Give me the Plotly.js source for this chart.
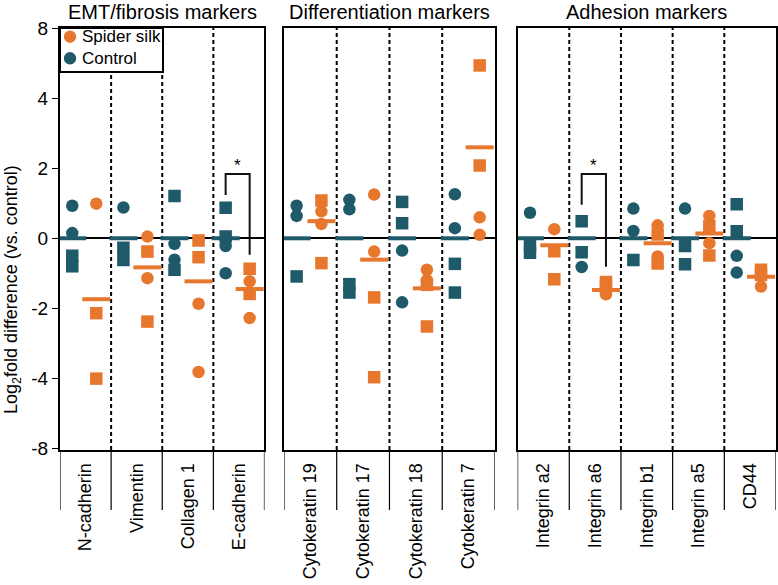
<!DOCTYPE html>
<html>
<head>
<meta charset="utf-8">
<script src="https://cdn.plot.ly/plotly-3.0.1.min.js"></script>
<style>html,body{margin:0;padding:0;background:#fff;}#chart{width:778px;height:585px;}</style>
</head>
<body>
<div id="chart"></div>
<script>
// ---------- DATA (log2 fold difference vs. control) ----------
const emtCategories = ['N-cadherin', 'Vimentin', 'Collagen 1', 'E-cadherin'];
const emtControlCircles = [[0.93, 0.15], [0.88], [-0.16, -0.61], [-0.22, -1.00]];
const emtControlSquares = [[-0.50, -0.80], [-0.27, -0.62], [1.21, -0.90], [0.87, 0.05]];
const emtSilkCircles = [[0.99], [0.05, -1.14], [-1.87, -3.82], [-1.23, -2.28]];
const emtSilkSquares = [[-2.14, -4.01], [-0.38, -2.38], [-0.06, -0.54], [-0.87, -1.59]];
const emtControlMeans = [0, 0, 0, 0];
const emtSilkMeans = [-1.74, -0.83, -1.23, -1.45];

const diffCategories = ['Cytokeratin 19', 'Cytokeratin 17', 'Cytokeratin 18', 'Cytokeratin 7'];
const diffControlCircles = [[0.93, 0.64], [1.10, 0.83], [-0.35, -1.83], [1.26, 0.29]];
const diffControlSquares = [[-1.09], [-1.31, -1.55], [1.04, 0.43], [-0.73, -1.55]];
const diffSilkCircles = [[0.77, 0.41], [1.25, -0.38], [-0.90, -1.20], [0.60, 0.10]];
const diffSilkSquares = [[1.08, -0.71], [-1.69, -3.97], [-1.33, -2.52], [4.94, 2.08]];
const diffControlMeans = [0, 0, 0, 0];
const diffSilkMeans = [0.49, -0.61, -1.43, 2.60];

const adhCategories = ['Integrin a2', 'Integrin a6', 'Integrin b1', 'Integrin a5', 'CD44'];
const adhControlCircles = [[0.73], [-0.82], [0.85, 0.21], [0.85], [-0.50, -0.98]];
const adhControlSquares = [[-0.20, -0.41], [0.49, -0.40], [-0.62], [-0.22, -0.74], [0.97, 0.20]];
const adhSilkCircles = [[0.26], [-1.60], [0.37, -0.52], [0.64, -0.14], [-1.38]];
const adhSilkSquares = [[-0.37, -1.17], [-1.25, -1.40], [0.11, -0.72], [0.35, -0.49], [-0.90, -1.05]];
const adhControlMeans = [0, 0, 0, 0, 0];
const adhSilkMeans = [-0.20, -1.48, -0.14, 0.14, -1.10];

const panelTitles = ['EMT/fibrosis markers', 'Differentiation markers', 'Adhesion markers'];
const yTickValues = [-6, -4, -2, 0, 2, 4, 6];
const yTickLabels = ['-8', '-4', '-2', '0', '2', '4', '8'];
const seriesNames = ['Spider silk', 'Control'];

// significance brackets: panel index, category index, bracket top, left leg end, right leg end
const sigPanel = [0, 2];
const sigCategory = [3, 1];
const sigTop = [1.84, 1.84];
const sigLeftEnd = [1.24, 0.96];
const sigRightEnd = [-0.47, -0.81];

// ---------- STYLE ----------
const ORANGE = '#E8772E';
const TEAL = '#1F5A6B';
const FONT = 'Liberation Sans, Arial, sans-serif';
const CTRL_OFF = -0.26, SILK_OFF = 0.21;
const MS = 12.5;

const panels = [
  {cats: emtCategories, cc: emtControlCircles, cs: emtControlSquares, sc: emtSilkCircles, ss: emtSilkSquares, cm: emtControlMeans, sm: emtSilkMeans, dom: [0, 0.2856]},
  {cats: diffCategories, cc: diffControlCircles, cs: diffControlSquares, sc: diffSilkCircles, ss: diffSilkSquares, cm: diffControlMeans, sm: diffSilkMeans, dom: [0.3128, 0.6075]},
  {cats: adhCategories, cc: adhControlCircles, cs: adhControlSquares, sc: adhSilkCircles, ss: adhSilkSquares, cm: adhControlMeans, sm: adhSilkMeans, dom: [0.6391, 1.0]}
];

function flatten(lists, off) {
  const x = [], y = [];
  lists.forEach((vals, i) => vals.forEach(v => { x.push(i + off); y.push(v); }));
  return {x, y};
}

const traces = [];
const shapes = [];
const annotations = [];
const layout = {
  width: 778, height: 585,
  margin: {l: 60, r: 2, t: 28, b: 135, pad: 0},
  paper_bgcolor: '#fff', plot_bgcolor: '#fff',
  showlegend: false,
  font: {family: FONT, color: '#000'},
  hovermode: false
};

panels.forEach((p, k) => {
  const xa = k === 0 ? 'x' : 'x' + (k + 1);
  const ya = k === 0 ? 'y' : 'y' + (k + 1);
  const n = p.cats.length;
  const groups = [
    [p.cc, CTRL_OFF, 'circle', TEAL],
    [p.cs, CTRL_OFF, 'square', TEAL],
    [p.sc, SILK_OFF, 'circle', ORANGE],
    [p.ss, SILK_OFF, 'square', ORANGE]
  ];
  groups.forEach(g => {
    const d = flatten(g[0], g[1]);
    traces.push({type: 'scatter', mode: 'markers', x: d.x, y: d.y, xaxis: xa, yaxis: ya,
      marker: {symbol: g[2], size: MS, color: g[3], line: {width: 0}}});
  });
  [[p.cm, CTRL_OFF, TEAL], [p.sm, SILK_OFF, ORANGE]].forEach(g => {
    traces.push({type: 'scatter', mode: 'markers', x: g[0].map((_, i) => i + g[1]), y: g[0], xaxis: xa, yaxis: ya,
      marker: {symbol: 'line-ew', size: 20, color: g[2], line: {width: 4, color: g[2]}}});
  });

  const xkey = k === 0 ? 'xaxis' : 'xaxis' + (k + 1);
  const ykey = k === 0 ? 'yaxis' : 'yaxis' + (k + 1);
  layout[xkey] = {
    domain: p.dom, anchor: ya, range: [-0.5, n - 0.5],
    tickmode: 'array', tickvals: p.cats.map((_, i) => i), ticktext: p.cats,
    tickangle: -90, ticks: '', ticklabelstandoff: 4,
    tickfont: {size: 18, family: FONT, color: '#000'},
    showline: true, linewidth: 2, linecolor: '#000', mirror: true,
    showgrid: false, zeroline: false, fixedrange: true
  };
  layout[ykey] = {
    anchor: xa, range: [-6.05, 6.01],
    tickmode: 'array', tickvals: yTickValues, ticktext: yTickLabels,
    ticks: k === 0 ? 'outside' : '', ticklen: 6, tickwidth: 1.5, tickcolor: '#000',
    showticklabels: k === 0,
    tickfont: {size: 19, family: FONT, color: '#000'},
    showline: true, linewidth: 2, linecolor: '#000', mirror: true,
    showgrid: false, zeroline: true, zerolinecolor: '#000', zerolinewidth: 2, fixedrange: true
  };

  // dotted dividers inside the panel
  for (let i = 0; i < n - 1; i++) {
    shapes.push({type: 'line', xref: xa, yref: 'paper', x0: i + 0.5, x1: i + 0.5, y0: 0, y1: 1,
      line: {color: '#000', width: 2, dash: '4px,3px'}, layer: 'below'});
  }
  // solid separators under the axis
  for (let i = 0; i <= n; i++) {
    shapes.push({type: 'line', xref: xa, yref: 'paper', x0: i - 0.5, x1: i - 0.5, y0: 0, y1: -0.142,
      line: {color: '#000', width: 1.2}});
  }
  // panel title
  annotations.push({xref: 'paper', yref: 'paper', x: (p.dom[0] + p.dom[1]) / 2, y: 1.038,
    text: panelTitles[k], showarrow: false, font: {size: 20, family: FONT, color: '#000'},
    xanchor: 'center', yanchor: 'middle'});
});

// significance brackets
sigPanel.forEach((pk, j) => {
  const xa = pk === 0 ? 'x' : 'x' + (pk + 1);
  const ya = pk === 0 ? 'y' : 'y' + (pk + 1);
  const c = sigCategory[j];
  const xl = c + CTRL_OFF, xr = c + SILK_OFF;
  shapes.push({type: 'path', xref: xa, yref: ya,
    path: `M ${xl} ${sigLeftEnd[j]} L ${xl} ${sigTop[j]} L ${xr} ${sigTop[j]} L ${xr} ${sigRightEnd[j]}`,
    line: {color: '#111', width: 2}});
  annotations.push({xref: xa, yref: ya, x: (xl + xr) / 2, y: sigTop[j], text: '*', showarrow: false,
    yanchor: 'bottom', yshift: -3, font: {size: 17, family: FONT, color: '#000'}});
});

// legend box (drawn in panel 1, top-left)
shapes.push({type: 'rect', xref: 'paper', yref: 'paper', x0: 0, x1: 103 / 716, y0: (450 - 72) / 422, y1: 1,
  line: {color: '#000', width: 2}, fillcolor: '#fff', layer: 'above'});
[ORANGE, TEAL].forEach((col, i) => {
  const py = 36.7 + i * 21.6;
  const yp = (450 - py) / 422;
  const xp = (70 - 60) / 716;
  shapes.push({type: 'circle', xref: 'paper', yref: 'paper', xsizemode: 'pixel', ysizemode: 'pixel',
    xanchor: xp, yanchor: yp, x0: -6.2, x1: 6.2, y0: -6.2, y1: 6.2,
    fillcolor: col, line: {width: 0}, layer: 'above'});
  annotations.push({xref: 'paper', yref: 'paper', x: (80 - 60) / 716, y: yp, text: seriesNames[i],
    showarrow: false, xanchor: 'left', yanchor: 'middle', font: {size: 17, family: FONT, color: '#000'}});
});

// y-axis title
annotations.push({xref: 'paper', yref: 'paper', x: (12 - 60) / 716, y: (450 - 290) / 422,
  text: 'Log<sub>2</sub>fold difference (vs. control)', textangle: -90, showarrow: false,
  xanchor: 'center', yanchor: 'middle', font: {size: 18, family: FONT, color: '#000'}});

layout.shapes = shapes;
layout.annotations = annotations;

Plotly.newPlot('chart', traces, layout, {displayModeBar: false, staticPlot: true});
</script>
</body>
</html>
